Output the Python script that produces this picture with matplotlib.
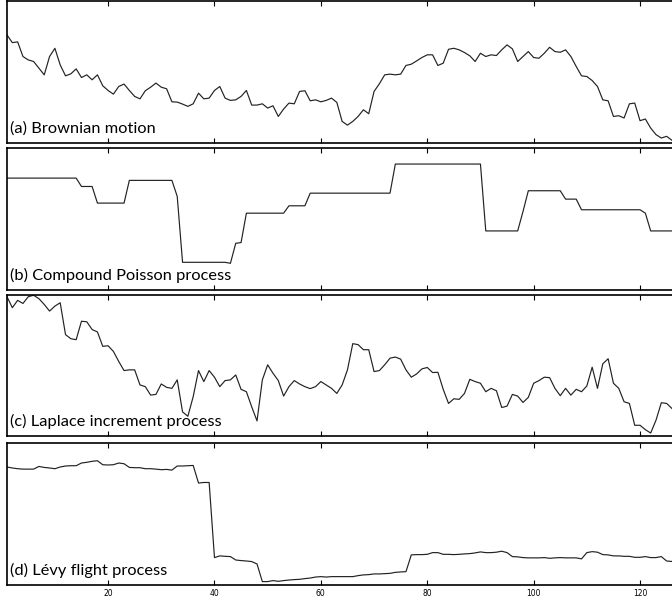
import numpy as np
import matplotlib
matplotlib.use('Agg')
import matplotlib.pyplot as plt

# time steps
steps = np.arange(1, 129)

# (a) Brownian motion
brownian = [76.1, 70.7, 71.2, 60.9, 58.5, 57.4, 52.7, 48.0, 60.9, 66.7,
            55.0, 47.3, 48.7, 52.2, 46.1, 48.0, 44.5, 48.0, 40.3, 37.0,
            34.4, 39.8, 41.5, 37.0, 32.8, 31.1, 36.8, 39.3, 42.2, 39.3,
            38.2, 29.0, 28.8, 27.4, 25.8, 27.6, 35.1, 31.1, 31.6, 37.0,
            39.8, 31.6, 30.0, 30.4, 32.8, 37.0, 26.7, 26.7, 27.6, 24.6,
            26.2, 18.7, 23.9, 28.1, 27.6, 36.3, 36.8, 29.7, 30.4, 29.0,
            30.0, 31.6, 28.6, 15.2, 12.6, 15.2, 18.7, 23.4, 20.6, 36.3,
            41.7, 48.0, 48.5, 48.0, 48.5, 54.6, 55.5, 57.8, 60.2, 62.1,
            62.1, 54.6, 56.2, 66.0, 66.7, 65.6, 63.7, 61.4, 57.4, 63.2,
            60.9, 62.1, 61.6, 65.6, 69.1, 66.3, 57.4, 60.9, 64.4, 60.2,
            59.7, 63.2, 67.4, 64.4, 63.9, 65.6, 60.9, 53.9, 47.3, 46.8,
            44.0, 39.8, 30.4, 29.7, 18.7, 19.2, 17.6, 27.6, 28.1, 15.7,
            16.9, 10.5, 5.9, 3.5, 4.7, 1.9, 0.0, 1.0]

# (b) Compound Poisson process
poisson = [78.8, 78.8, 78.8, 78.8, 78.8, 78.8, 78.8, 78.8, 78.8, 78.8,
           78.8, 78.8, 78.8, 78.8, 72.9, 72.9, 72.9, 61.2, 61.2, 61.2,
           61.2, 61.2, 61.2, 77.2, 77.2, 77.2, 77.2, 77.2, 77.2, 77.2,
           77.2, 77.2, 65.9, 19.5, 19.5, 19.5, 19.5, 19.5, 19.5, 19.5,
           19.5, 19.5, 18.8, 32.9, 33.4, 54.1, 54.1, 54.1, 54.1, 54.1,
           54.1, 54.1, 54.1, 59.3, 59.3, 59.3, 59.3, 68.2, 68.2, 68.2,
           68.2, 68.2, 68.2, 68.2, 68.2, 68.2, 68.2, 68.2, 68.2, 68.2,
           68.2, 68.2, 68.2, 88.7, 88.7, 88.7, 88.7, 88.7, 88.7, 88.7,
           88.7, 88.7, 88.7, 88.7, 88.7, 88.7, 88.7, 88.7, 88.7, 88.7,
           41.6, 41.6, 41.6, 41.6, 41.6, 41.6, 41.6, 55.3, 69.9, 69.9,
           69.9, 69.9, 69.9, 69.9, 69.9, 64.0, 64.0, 64.0, 56.5, 56.5,
           56.5, 56.5, 56.5, 56.5, 56.5, 56.5, 56.5, 56.5, 56.5, 56.5,
           54.1, 41.6, 41.6, 41.6, 41.6, 41.6, 41.6, 41.6]

# (c) Laplace increment process
laplace = [98.8, 91.0, 96.2, 94.0, 98.8, 99.8, 97.4, 93.3, 88.6, 92.1,
           94.5, 71.9, 69.0, 68.3, 81.4, 81.0, 75.5, 73.8, 63.6, 64.0,
           60.0, 52.9, 46.4, 46.9, 46.9, 36.2, 35.0, 29.0, 29.5, 36.9,
           34.5, 33.8, 39.8, 17.1, 14.0, 27.9, 46.4, 38.6, 46.4, 41.7,
           35.0, 39.3, 39.8, 43.3, 33.1, 31.4, 20.7, 10.7, 39.8, 50.5,
           44.5, 39.3, 28.3, 35.0, 39.3, 36.9, 35.0, 33.6, 35.0, 38.6,
           36.2, 33.8, 30.2, 36.2, 46.9, 65.5, 64.8, 61.2, 61.2, 45.7,
           46.4, 50.5, 55.2, 56.0, 54.5, 46.9, 41.7, 44.0, 47.6, 48.6,
           45.0, 45.2, 33.1, 23.1, 26.4, 26.0, 30.2, 40.2, 38.6, 37.4,
           31.4, 33.8, 32.1, 20.2, 21.2, 29.5, 28.3, 23.8, 27.4, 37.4,
           39.3, 41.7, 41.4, 33.8, 28.6, 33.8, 29.0, 33.1, 31.4, 35.5,
           48.8, 33.8, 51.2, 54.8, 37.4, 33.8, 24.3, 23.1, 7.6, 7.6,
           4.5, 2.1, 11.2, 23.6, 23.1, 19.5, 17.0, 15.0]

# (d) Levy flight process
levy = [83.1, 82.4, 81.9, 81.6, 81.6, 81.6, 83.5, 82.8, 82.4, 81.9,
        83.1, 83.8, 84.0, 84.0, 85.9, 86.4, 87.1, 87.5, 84.7, 84.5,
        84.7, 85.9, 85.4, 82.8, 82.6, 82.6, 81.9, 81.9, 81.6, 81.2,
        81.4, 80.9, 83.8, 83.8, 84.0, 84.2, 71.8, 72.2, 72.2, 19.3,
        20.5, 20.2, 20.0, 17.6, 17.2, 16.9, 16.5, 14.8, 2.4, 2.4,
        3.1, 2.6, 3.1, 3.5, 3.8, 4.0, 4.5, 4.9, 5.6, 5.9,
        5.6, 5.9, 5.9, 5.9, 5.9, 5.9, 6.6, 7.1, 7.3, 7.8,
        7.8, 8.0, 8.2, 8.9, 9.2, 9.4, 21.2, 21.4, 21.4, 21.6,
        22.8, 22.8, 21.6, 21.6, 21.4, 21.6, 21.9, 22.1, 22.6, 23.3,
        22.8, 22.8, 23.1, 23.8, 22.8, 20.0, 19.8, 19.3, 19.1, 19.1,
        19.1, 19.3, 18.8, 19.1, 19.3, 19.1, 19.1, 19.1, 18.4, 22.8,
        23.5, 23.1, 21.4, 21.2, 20.5, 20.5, 20.2, 20.2, 19.5, 19.5,
        20.0, 19.3, 19.3, 20.0, 16.9, 16.5, 16.5, 16.2]

series = [brownian, poisson, laplace, levy]
labels = ['(a) Brownian motion', '(b) Compound Poisson process',
          '(c) Laplace increment process', u'(d) L\u00e9vy flight process']
xticks = [20, 40, 60, 80, 100, 120]

fig = plt.figure(figsize=(6.72, 6.03), dpi=100)

# panel positions in pixels, turned into figure fractions below
W, H = 672.0, 603.0
tops = [1, 148, 295, 443]
bottoms = [143, 290, 436, 585]

for i in range(4):
    b = (H - bottoms[i]) / H
    h = (bottoms[i] - tops[i]) / H
    ax = fig.add_axes([7 / W, b, 675.6 / W, h])
    ax.plot(steps, series[i], color='#222222', linewidth=0.85)
    ax.set_xlim(1, 128)
    ax.set_ylim(0, 100)
    ax.set_yticks([])
    ax.set_xticks(xticks)
    ax.tick_params(axis='x', direction='in', top=True, bottom=True,
                   length=3.5, width=0.8, labelsize=5.5, pad=3)
    if i < 3:
        ax.set_xticklabels([])
    for s in ax.spines.values():
        s.set_linewidth(1.2)
    ax.text(0.0045, 0.07, labels[i], transform=ax.transAxes,
            fontsize=11.8, family='Lato', va='baseline', ha='left')

fig.savefig('out.png', dpi=100)
